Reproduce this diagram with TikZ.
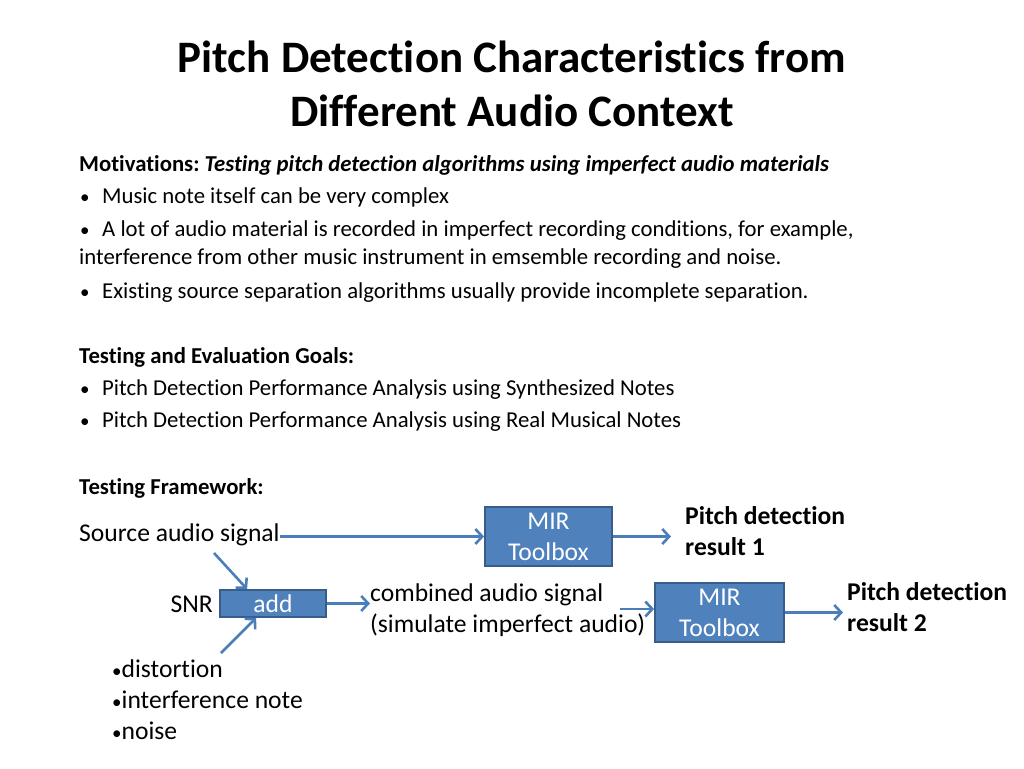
\documentclass[tikz,border=0pt]{standalone}
\usepackage{fontspec}
\setmainfont{Carlito}[Ligatures=NoCommon]
\usetikzlibrary{arrows.meta,calc}
\definecolor{boxblue}{HTML}{4F81BD}
\definecolor{boxedge}{HTML}{385D8A}
\definecolor{flowblue}{HTML}{4A7EBB}
\tikzset{
  body/.style={anchor=base west,inner sep=0pt,font=\fontsize{22.75}{29}\selectfont},
  big/.style={anchor=base west,inner sep=0pt,font=\fontsize{25.6}{31}\selectfont},
  toolbox/.style={draw=boxedge,fill=boxblue,line width=1.8pt,text=white,align=center,inner sep=0pt,font=\fontsize{25.6}{31}\selectfont},
  flow/.style={draw=flowblue,line width=2.6pt,-{Straight Barb[length=7pt,width=15pt]}}
}

\begin{document}
\begin{tikzpicture}[x=1pt,y=-1pt]
\useasboundingbox[fill=white] (0,0) rectangle (1024,768);

\node[font=\fontsize{45}{54}\selectfont\bfseries,align=center,anchor=base] (title) at (512,126) {Pitch Detection Characteristics from\\Different Audio Context};

\node[body] (motiv) at (79,171) {\bfseries Motivations:\ \itshape Testing pitch detection algorithms using imperfect audio materials};
\foreach \y/\t in {203/Music note itself can be very complex,236/{A lot of audio material is recorded in imperfect recording conditions, for example,},298/Existing source separation algorithms usually provide incomplete separation.,395/Pitch Detection Performance Analysis using Synthesized Notes,427/Pitch Detection Performance Analysis using Real Musical Notes} {
  \node[body,font=\fontsize{19}{19}\selectfont] (dot\y) at (80,\y) {•};
  \node[body] (line\y) at (102,\y) {\t};}
\node[body] (wrap) at (79,264) {interference from other music instrument in emsemble recording and noise.};
\node[body,font=\fontsize{22.75}{29}\selectfont\bfseries] (goals) at (79,363) {Testing and Evaluation Goals:};
\node[body,font=\fontsize{22.75}{29}\selectfont\bfseries] (frame) at (79,494) {Testing Framework:};

% framework
\node[big] (src) at (79,541) {Source audio signal};
\node[toolbox,minimum width=127pt,minimum height=59pt] (mir1) at (548.5,536.5) {MIR\\Toolbox};
\node[big,align=left,font=\fontsize{25.6}{31}\selectfont\bfseries] (res1) at (685,555) {Pitch detection\\result 1};
\node[big,anchor=base east] (snr) at (213,612) {SNR};
\node[toolbox,minimum width=106pt,minimum height=27pt] (add) at (273,603.5) {add};
\node[big,align=left] (comb) at (370,632) {combined audio signal\\(simulate imperfect audio)};
\node[toolbox,minimum width=129pt,minimum height=59pt] (mir2) at (719.5,612.5) {MIR\\Toolbox};
\node[big,align=left,font=\fontsize{25.6}{31}\selectfont\bfseries] (res2) at (847,631) {Pitch detection\\result 2};
\foreach \y/\t in {677/distortion,708/interference note,739/noise}
  \node[big] (src\y) at (112,\y) {{\fontsize{19}{19}\selectfont•}\t};

\coordinate (srcdrop) at (214,553);
\coordinate (mixin) at (221,653);
\coordinate (combout) at (620,609);

\draw[flow] (src.east |- mir1.west) -- (mir1.west);
\draw[flow,shorten >=14pt] (mir1.east) -- (mir1.east -| res1.west);
\draw[flow] (srcdrop) -- ($(add.north west)+(28,0)$);
\draw[flow] (mixin) -- ($(add.south west)+(37,0)$);
\draw[flow] (add.east) -- (add.east -| comb.west);
\draw[flow] (combout) -- (combout -| mir2.west);
\draw[flow,shorten >=4pt] (mir2.east) -- (mir2.east -| res2.west);

\end{tikzpicture}
\end{document}
